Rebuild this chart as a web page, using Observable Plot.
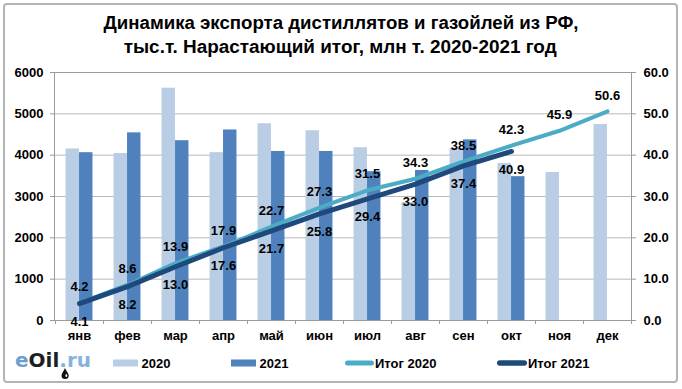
<!DOCTYPE html>
<html><head><meta charset="utf-8">
<script src="https://cdn.jsdelivr.net/npm/d3@7"></script>
<script src="https://cdn.jsdelivr.net/npm/@observablehq/plot@0.6"></script>
<style>
body{margin:0;background:#fff}
#wrap{position:relative;width:682px;height:389px;overflow:hidden;background:#fff}
#wrap svg{position:absolute;left:0;top:0}
</style>
</head><body><div id="wrap"></div>
<script>
const months = ["янв","фев","мар","апр","май","июн","июл","авг","сен","окт","ноя","дек"];
const exp2020 = [4150, 4040, 5620, 4060, 4760, 4590, 4180, 2850, 4160, 3800, 3580, 4740];
const exp2021 = [4060, 4540, 4350, 4610, 4090, 4090, 3600, 3630, 4370, 3480];
const cum2020 = [4.2, 8.6, 13.9, 17.9, 22.7, 27.3, 31.5, 34.3, 38.5, 42.3, 45.9, 50.6];
const cum2021 = [4.1, 8.2, 13.0, 17.6, 21.7, 25.8, 29.4, 33.0, 37.4, 40.9];
const leftTicks = [0, 1000, 2000, 3000, 4000, 5000, 6000];
const titleLines = ["Динамика экспорта дистиллятов и газойлей из РФ,", "тыс.т. Нарастающий итог, млн т. 2020-2021 год"];
const legendLabels = ["2020", "2021", "Итог 2020", "Итог 2021"];

const C20 = "#b9cde5", C21 = "#4f81bd", L20 = "#4bacc6", L21 = "#1f497d";
const W = 682, H = 389, mL = 54, mR = 51, mT = 72, mB = 69;
const bw = (W - mL - mR) / months.length;
const barW = 13.5;

const bars20 = exp2020.map((v, i) => ({month: months[i], v}));
const bars21 = exp2021.map((v, i) => ({month: months[i], v}));
const line20 = cum2020.map((v, i) => ({month: months[i], v}));
const line21 = cum2021.map((v, i) => ({month: months[i], v}));

const font = "'Liberation Sans', Arial, sans-serif";

const chart = Plot.plot({
  width: W, height: H,
  marginLeft: mL, marginRight: mR, marginTop: mT, marginBottom: mB,
  x: {type: "band", domain: months, padding: 0, axis: null, label: null},
  y: {domain: [0, 6000], axis: null, label: null},
  style: {fontFamily: font, fontSize: "13px", fontWeight: "bold", color: "#000", background: "transparent", overflow: "visible"},
  marks: [
    Plot.gridY(leftTicks.slice(1), {stroke: "#b8b8b8", strokeOpacity: 1}),
    Plot.barY(bars20, {x: "month", y: "v", fill: C20, insetLeft: bw / 2 - barW, insetRight: bw / 2}),
    Plot.barY(bars21, {x: "month", y: "v", fill: C21, insetLeft: bw / 2, insetRight: bw / 2 - barW}),
    Plot.frame({stroke: "#9a9a9a"}),
    Plot.axisY(leftTicks, {anchor: "left", label: null, tickSize: 4, tickPadding: 7, stroke: "#9a9a9a", fill: "#000", tickFormat: d => String(d)}),
    Plot.axisY(leftTicks, {anchor: "right", label: null, tickSize: 4, tickPadding: 8, stroke: "#9a9a9a", fill: "#000", tickFormat: d => (d / 100).toFixed(1)}),
    Plot.axisX(months, {anchor: "bottom", label: null, tickSize: 4, dx: -bw / 2, stroke: "#9a9a9a", tickFormat: () => ""}),
    Plot.axisX(months.slice(-1), {anchor: "bottom", label: null, tickSize: 4, dx: bw / 2, stroke: "#9a9a9a", tickFormat: () => ""}),
    Plot.axisX(months, {anchor: "bottom", label: null, tickSize: 0, tickPadding: 10, fill: "#000"}),
    Plot.lineY(line20, {x: "month", y: d => d.v * 100, stroke: L20, strokeWidth: 4, strokeLinecap: "round", strokeLinejoin: "round"}),
    Plot.lineY(line21, {x: "month", y: d => d.v * 100, stroke: L21, strokeWidth: 5, strokeLinecap: "round", strokeLinejoin: "round"}),
    Plot.text(line20, {x: "month", y: d => d.v * 100, text: d => d.v.toFixed(1), dy: -16, fill: "#000"}),
    Plot.text(line21, {x: "month", y: d => d.v * 100, text: d => d.v.toFixed(1), dy: 18, fill: "#000"})
  ]
});
const wrap = document.getElementById("wrap");
wrap.appendChild(chart);

// overlay: border, title, legend, logo
const svg = d3.select(wrap).append("svg").attr("width", W).attr("height", H).style("font-family", font);
svg.append("rect").attr("x", 4).attr("y", 4).attr("width", 673).attr("height", 378).attr("rx", 3)
  .attr("fill", "none").attr("stroke", "#b4b4b4").attr("stroke-width", 2);

const tl = [{x: 341, y: 29.3, len: 475}, {x: 340.2, y: 52.5, len: 433}];
titleLines.forEach((t, i) => {
  svg.append("text").attr("x", tl[i].x).attr("y", tl[i].y).attr("text-anchor", "middle")
    .attr("font-size", 17.5).attr("font-weight", "bold").attr("fill", "#000")
    .attr("textLength", tl[i].len).attr("lengthAdjust", "spacingAndGlyphs").text(t);
});

// legend
const lg = svg.append("g").attr("font-size", 13).attr("font-weight", "bold").attr("fill", "#000");
const items = [
  {type: "bar", c: C20, x0: 113, x1: 138, tx: 141.5},
  {type: "bar", c: C21, x0: 231, x1: 256, tx: 259.5},
  {type: "line", c: L20, x0: 345, x1: 374, tx: 375, w: 5},
  {type: "line", c: L21, x0: 497, x1: 527, tx: 528, w: 5.5}
];
items.forEach((it, i) => {
  if (it.type === "bar") {
    lg.append("rect").attr("x", it.x0).attr("y", 359.5).attr("width", it.x1 - it.x0).attr("height", 7).attr("fill", it.c);
  } else {
    lg.append("line").attr("x1", it.x0 + it.w / 2).attr("x2", it.x1 - it.w / 2).attr("y1", 363).attr("y2", 363)
      .attr("stroke", it.c).attr("stroke-width", it.w).attr("stroke-linecap", "round");
  }
  lg.append("text").attr("x", it.tx).attr("y", 367.7).text(legendLabels[i]);
});

// logo
const logo = svg.append("text").attr("x", 15).attr("y", 367.3).attr("font-family", "'DejaVu Sans', Verdana, sans-serif")
  .attr("font-size", 19.5).attr("font-weight", "bold").attr("textLength", 76).attr("lengthAdjust", "spacingAndGlyphs");
logo.append("tspan").attr("fill", "#6a9fcf").text("e");
logo.append("tspan").attr("fill", "#1e1e1e").text("Oil");
logo.append("tspan").attr("fill", "#86b2dc").text(".ru");
svg.append("path").attr("d", "M65,368 C64,371 61.5,373 61.5,375.5 A3.6,3.6 0 0 0 68.7,375.5 C68.7,373 66,371 65,368 Z").attr("fill", "#111");
svg.append("ellipse").attr("cx", 66.3).attr("cy", 375.5).attr("rx", 0.9).attr("ry", 1.5).attr("fill", "#fff");
</script></body></html>
